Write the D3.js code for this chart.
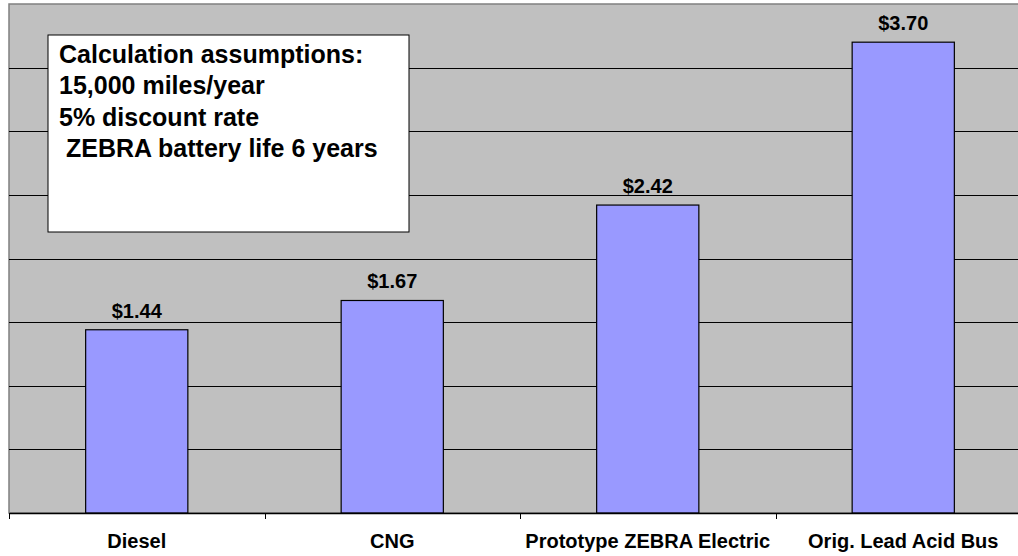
<!DOCTYPE html>
<html>
<head>
<meta charset="utf-8">
<script src="https://cdn.jsdelivr.net/npm/d3@7"></script>
<style>
  body { margin: 0; background: #fff; }
  text { font-family: "Liberation Sans", Arial, sans-serif; font-weight: bold; }
</style>
</head>
<body>
<div id="chart"></div>
<script>
// Chart data.
var categories = ["Diesel", "CNG", "Prototype ZEBRA Electric", "Orig. Lead Acid Bus"];
var costs = [1.44, 1.67, 2.42, 3.70];
var gridValues = [0.5, 1, 1.5, 2, 2.5, 3, 3.5];
var noteLines = ["Calculation assumptions:", "15,000 miles/year", "5% discount rate", " ZEBRA battery life 6 years"];

var width = 1018, height = 556;
var plotLeft = 9, plotTop = 4, plotRight = 1031, plotBottom = 513;

var svg = d3.select("#chart").append("svg")
    .attr("width", width)
    .attr("height", height);

var x = d3.scaleBand().domain(categories).range([plotLeft, plotRight]).padding(0);
var y = d3.scaleLinear().domain([0, 4]).range([plotBottom, plotTop]);

// Plot area.
svg.append("rect")
    .attr("x", plotLeft).attr("y", plotTop)
    .attr("width", plotRight - plotLeft).attr("height", plotBottom - plotTop)
    .attr("fill", "#c0c0c0")
    .attr("stroke", "#808080")
    .attr("stroke-width", 1.5);

// Grid lines.
svg.append("g").selectAll("line")
    .data(gridValues)
    .enter().append("line")
    .attr("x1", plotLeft).attr("x2", plotRight)
    .attr("y1", d => Math.round(y(d)) + 0.5)
    .attr("y2", d => Math.round(y(d)) + 0.5)
    .attr("stroke", "#000")
    .attr("stroke-width", 1);

// Bars.
var barW = x.bandwidth() * 0.4;
svg.append("g").selectAll("rect")
    .data(costs)
    .enter().append("rect")
    .attr("x", (d, i) => x(categories[i]) + (x.bandwidth() - barW) / 2)
    .attr("y", d => y(d))
    .attr("width", barW)
    .attr("height", d => plotBottom - y(d))
    .attr("fill", "#9999ff")
    .attr("stroke", "#000")
    .attr("stroke-width", 1.2);

// Value labels.
svg.append("g").selectAll("text")
    .data(costs)
    .enter().append("text")
    .attr("x", (d, i) => x(categories[i]) + x.bandwidth() / 2)
    .attr("y", d => y(d) - 12)
    .attr("text-anchor", "middle")
    .style("font-size", "20px")
    .text(d => "$" + d.toFixed(2));

// X axis.
var xAxis = d3.axisBottom(x).tickSize(0);
var xg = svg.append("g")
    .attr("transform", "translate(0," + plotBottom + ")")
    .call(xAxis);
xg.select(".domain").attr("stroke", "#000").attr("stroke-width", 1.5);
xg.selectAll(".tick text")
    .attr("y", 35).attr("dy", 0)
    .attr("fill", "#000")
    .style("font-size", "20px")
    .style("font-family", "'Liberation Sans', Arial, sans-serif")
    .style("font-weight", "bold");
// boundary ticks between categories
xg.append("g").selectAll("line")
    .data(categories)
    .enter().append("line")
    .attr("x1", d => Math.round(x(d)) + 0.5)
    .attr("x2", d => Math.round(x(d)) + 0.5)
    .attr("y1", 0).attr("y2", 6)
    .attr("stroke", "#000");

// Assumptions box.
var box = svg.append("g").attr("transform", "translate(48,35)");
box.append("rect")
    .attr("width", 361).attr("height", 197)
    .attr("fill", "#fff")
    .attr("stroke", "#000")
    .attr("stroke-width", 1);
box.selectAll("text")
    .data(noteLines)
    .enter().append("text")
    .attr("x", 11)
    .attr("y", (d, i) => 28 + i * 31.3)
    .style("font-size", "25px")
    .style("white-space", "pre")
    .attr("xml:space", "preserve")
    .text(d => d);
</script>
</body>
</html>
